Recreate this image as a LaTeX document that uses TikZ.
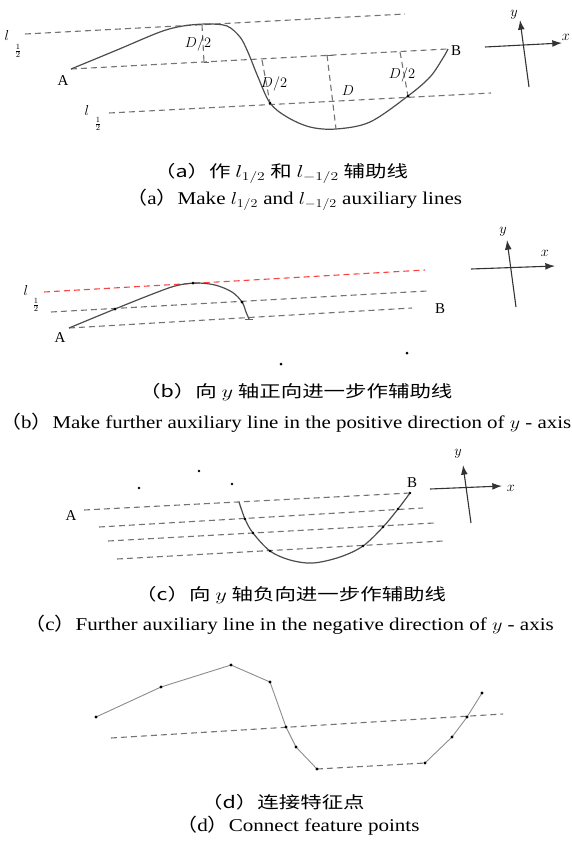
\documentclass[tikz,border=0pt]{standalone}
\usepackage{fontspec}
\setmainfont{Liberation Serif}
\newfontfamily\cjk{Noto Sans CJK SC}
\usepackage{graphicx}
\usetikzlibrary{arrows.meta,calc,positioning}
\tikzset{
    myaux/.style={dash pattern=on 6pt off 4pt,line width=1.1pt,draw=black!55},
    myred/.style={myaux,draw=red!75},
    mycurve/.style={line width=1.2pt,draw=black!70},
    mypoly/.style={line width=0.9pt,draw=black!45},
    myaxis/.style={line width=1.1pt,draw=black!80,-{Latex[length=3.4mm,width=2.4mm]}},
    mycap/.style={font=\fontsize{18}{21}\selectfont,inner sep=0pt,anchor=west},
    mycapcn/.style={font=\fontsize{16.5}{19}\selectfont,inner sep=0pt,anchor=west},
    mylab/.style={font=\fontsize{15}{17}\selectfont,inner sep=0pt},
    myhalf/.style={font=\fontsize{11}{11}\selectfont,inner sep=0pt},
    every node/.style={font=\small}
}
\newcommand{\widecn}[1]{\scalebox{1.3}[1]{#1}}
\newcommand{\wideen}[1]{\scalebox{1.17}[1]{#1}}
\newcommand{\lp}{{\cjk（}}
\newcommand{\rp}{{\cjk）}}

\begin{document}
\begin{tikzpicture}[x=1pt,y=-1pt]
  \useasboundingbox (0,0) rectangle (572,844);
  % (a) auxiliary lines l_{1/2} and l_{-1/2}
  \coordinate (aT1) at (25,34);   \coordinate (aT2) at (405,14);
  \coordinate (aA)  at (71,69);   \coordinate (aB)  at (447,49);
  \coordinate (aL1) at (109,113); \coordinate (aL2) at (491,93);
  \draw[myaux] (aT1)--(aT2);
  \draw[myaux] (aA)--(aB);
  \draw[myaux] (aL1)--(aL2);
  \draw[mycurve] plot[smooth,tension=0.55] coordinates {(71,69) (117,50) (160,32) (183,26) (207,24) (227,26) (240,37) (247,50) (252,62) (258,77) (270,103) (287,117) (310,127) (336,129) (370,122) (408,96) (430,77) (443,58) (448,49)};
  \coordinate (aP1) at (202,25);  \coordinate (aQ1) at (204,62);
  \coordinate (aP2) at (262,60);  \coordinate (aQ2) at (270,103);
  \coordinate (aP3) at (327,55);  \coordinate (aQ3) at (336,129);
  \coordinate (aP4) at (400,52);  \coordinate (aQ4) at (408,96);
  \foreach \i in {1,...,4}{\draw[myaux] (aP\i)--(aQ\i);}
  \draw[black!60,line width=0.8pt] (aQ1)--++(5,0);
  \draw[black!60,line width=0.8pt] (aP3)--++(6,0);
  \foreach \i in {2,4}{\fill[black] (aQ\i) circle (1.5pt);}
  \node[mylab] (aDa) at (198,44) {$D/2$};
  \node[mylab] (aDb) at (274,84) {$D/2$};
  \node[mylab] (aDc) at (348,91) {$D$};
  \node[mylab] (aDd) at (402,75) {$D/2$};
  \node[mylab] (aAl) at (63,81) {A};
  \node[mylab] (aBl) at (456,51) {B};
  \node[mylab] (al1) at (7,35) {$l$};
  \node[myhalf] (ah1) at (18,51) {$\frac{1}{2}$};
  \node[mylab] (al2) at (87,110) {$l$};
  \node[myhalf] (ah2) at (98,124) {$\frac{1}{2}$};
  \coordinate (aX1) at (485,47); \coordinate (aX2) at (562,43);
  \coordinate (aY1) at (529,87); \coordinate (aY2) at (520,20);
  \draw[myaxis] (aX1)--(aX2);
  \draw[myaxis] (aY1)--(aY2);
  \node[mylab] (ax) at (566,37) {$x$};
  \node[mylab] (ay) at (514,15) {$y$};
  \node[mycapcn] (capa) at (154,173) {\widecn{\cjk（a）作 $l_{1/2}$ 和 $l_{-1/2}$ 辅助线}};
  \node[mycap] (capae) at (126,200) {\wideen{\lp a\rp Make $l_{1/2}$ and $l_{-1/2}$ auxiliary lines}};

  % (b) further auxiliary line towards +y
  \coordinate (bR1) at (44,292);  \coordinate (bR2) at (425,270);
  \coordinate (bM1) at (51,312);  \coordinate (bM2) at (427,291);
  \coordinate (bA)  at (69,328);  \coordinate (bE)  at (412,308);
  \draw[myred] (bR1)--(bR2);
  \draw[myaux] (bM1)--(bM2);
  \draw[myaux] (bA)--(bE);
  \draw[mycurve] plot[smooth,tension=0.55] coordinates {(69,328) (115,309) (150,295) (175,286) (195,283) (215,285) (232,292) (242,302) (246,312) (249,319)};
  \draw[black!60,line width=0.8pt] (245,319)--(253,319);
  \foreach \p in {(115,309),(193,283),(242,302),(281,364),(407,353)}{\fill[black] \p circle (1.5pt);}
  \node[mylab] (bAl) at (60,338) {A};
  \node[mylab] (bBl) at (440,309) {B};
  \node[mylab] (bl) at (26,290) {$l$};
  \node[myhalf] (bh) at (36,305) {$\frac{1}{2}$};
  \coordinate (bX1) at (471,269); \coordinate (bX2) at (555,266);
  \coordinate (bY1) at (516,307); \coordinate (bY2) at (507,240);
  \draw[myaxis] (bX1)--(bX2);
  \draw[myaxis] (bY1)--(bY2);
  \node[mylab] (bx) at (545,253) {$x$};
  \node[mylab] (by) at (503,232) {$y$};
  \node[mycapcn] (capb) at (139,392) {\widecn{\cjk（b）向 $y$ 轴正向进一步作辅助线}};
  \node[mycap] (capbe) at (0,423) {\resizebox{571pt}{\height}{\lp b\rp Make further auxiliary line in the positive direction of $y$ - axis}};

  % (c) further auxiliary line towards -y
  \coordinate (cA)  at (84,510);  \coordinate (cB)  at (410,493);
  \coordinate (cM1) at (99,527);  \coordinate (cM2) at (423,508);
  \coordinate (cN1) at (108,541); \coordinate (cN2) at (434,523);
  \coordinate (cK1) at (117,559); \coordinate (cK2) at (443,541);
  \draw[myaux] (cA)--(cB);
  \draw[myaux] (cM1)--(cM2);
  \draw[myaux] (cN1)--(cN2);
  \draw[myaux] (cK1)--(cK2);
  \draw[mycurve] plot[smooth,tension=0.55] coordinates {(239,502) (245,519) (253,533) (270,551) (290,560) (313,563) (340,557) (363,546) (383,527) (398,509) (410,493)};
  \foreach \p in {(139,488),(199,471),(232,484),(245,519),(253,533),(270,551),(363,546),(383,527),(398,509),(410,493)}{\fill[black] \p circle (1.4pt);}
  \node[mylab] (cAl) at (71,516) {A};
  \node[mylab] (cBl) at (412,483) {B};
  \coordinate (cX1) at (430,489); \coordinate (cX2) at (502,486);
  \coordinate (cY1) at (471,523); \coordinate (cY2) at (463,465);
  \draw[myaxis] (cX1)--(cX2);
  \draw[myaxis] (cY1)--(cY2);
  \node[mylab] (cx) at (511,488) {$x$};
  \node[mylab] (cy) at (458,454) {$y$};
  \node[mycapcn] (capc) at (135,595) {\widecn{\cjk（c）向 $y$ 轴负向进一步作辅助线}};
  \node[mycap] (capce) at (24,625) {\wideen{\lp c\rp Further auxiliary line in the negative direction of $y$ - axis}};

  % (d) connect feature points
  \coordinate (dL1) at (111,738); \coordinate (dL2) at (503,714);
  \draw[myaux] (dL1)--(dL2);
  \coordinate (d1) at (96,717);   \coordinate (d2) at (161,687);
  \coordinate (d3) at (231,665);  \coordinate (d4) at (270,682);
  \coordinate (d5) at (286,727);  \coordinate (d6) at (296,747);
  \coordinate (d7) at (317,769);  \coordinate (d8) at (425,763);
  \coordinate (d9) at (452,737);  \coordinate (d10) at (467,717);
  \coordinate (d11) at (482,693);
  \draw[mypoly] (d1)--(d2)--(d3)--(d4)--(d5)--(d6)--(d7);
  \draw[myaux] (d7)--(d8);
  \draw[mypoly] (d8)--(d9)--(d10)--(d11);
  \foreach \n in {1,...,11}{\fill[black] (d\n) circle (1.6pt);}
  \node[mycapcn] (capd) at (201,802) {\widecn{\cjk（d）连接特征点}};
  \node[mycap] (capde) at (176,826) {\wideen{\lp d\rp Connect feature points}};
\end{tikzpicture}
\end{document}
